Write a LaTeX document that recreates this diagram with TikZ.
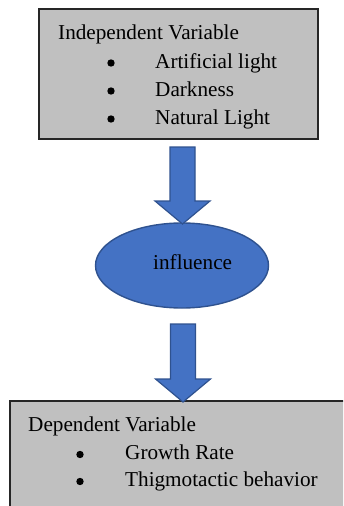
\documentclass[tikz,border=0pt]{standalone}
\usepackage{fontspec}
\setmainfont{Liberation Serif}
\usetikzlibrary{calc,shapes.geometric}
\definecolor{boxgray}{HTML}{C0C0C0}
\definecolor{arrblue}{HTML}{4472C4}
\definecolor{arrline}{HTML}{2F528F}
\tikzset{
  varbox/.style={draw=black!85, line width=1.5pt, fill=boxgray, inner sep=0},
  lbl/.style={anchor=base west, inner sep=0, font=\fontsize{21.2}{25}\selectfont},
  bulletdot/.style={circle, fill=black, inner sep=0, minimum size=7.4pt},
  blockarrow/.style={fill=arrblue, draw=arrline, line width=1.2pt, line join=miter},
  inflshape/.style={ellipse, fill=arrblue, draw=arrline, line width=1.4pt, inner sep=0}
}
% #1 = top coordinate name, #2 = tip coordinate name
\newcommand\blockarr[2]{%
  \draw[blockarrow] ($(#1)+(-12.5,0)$) -- ($(#1)+(12.5,0)$)
    -- ($(#2)+(12.5,-23)$) -- ($(#2)+(27.5,-23)$) -- (#2)
    -- ($(#2)+(-27.5,-23)$) -- ($(#2)+(-12.5,-23)$) -- cycle;}
\begin{document}
\begin{tikzpicture}[x=1pt,y=-1pt]
\useasboundingbox (0,0) rectangle (343,506);
\clip (0,0) rectangle (343,506);
% boxes
\node[varbox, anchor=north west, minimum width=279pt, minimum height=130pt] (ind) at (38,8) {};
\node[varbox, anchor=north west, minimum width=360pt, minimum height=130pt] (dep) at (9,400) {};
\node[inflshape, minimum width=173pt, minimum height=85pt] (infl) at (182,265.5) {};
% arrows
\coordinate (a1top) at (182.5,147);
\coordinate (a1tip) at (182.5,224);
\blockarr{a1top}{a1tip}
\coordinate (a2top) at (183,324);
\coordinate (a2tip) at (183,402);
\blockarr{a2top}{a2tip}
% texts top
\node[lbl] (indt) at (58,39) {Independent Variable};
\node[bulletdot] (b1) at (111,63) {};
\node[lbl] (i1) at (155,68) {Artificial light};
\node[bulletdot] (b2) at (111,91) {};
\node[lbl] (i2) at (155,96) {Darkness};
\node[bulletdot] (b3) at (111,119) {};
\node[lbl] (i3) at (155,124) {Natural Light};
% ellipse text
\node[lbl] (inflt) at (153,269) {influence};
% texts bottom
\node[lbl] (dept) at (28,431) {Dependent Variable};
\node[bulletdot] (d1) at (80,454.5) {};
\node[lbl] (j1) at (125,459) {Growth Rate};
\node[bulletdot] (d2) at (80,481.5) {};
\node[lbl] (j2) at (125,486) {Thigmotactic behavior};
\end{tikzpicture}
\end{document}
